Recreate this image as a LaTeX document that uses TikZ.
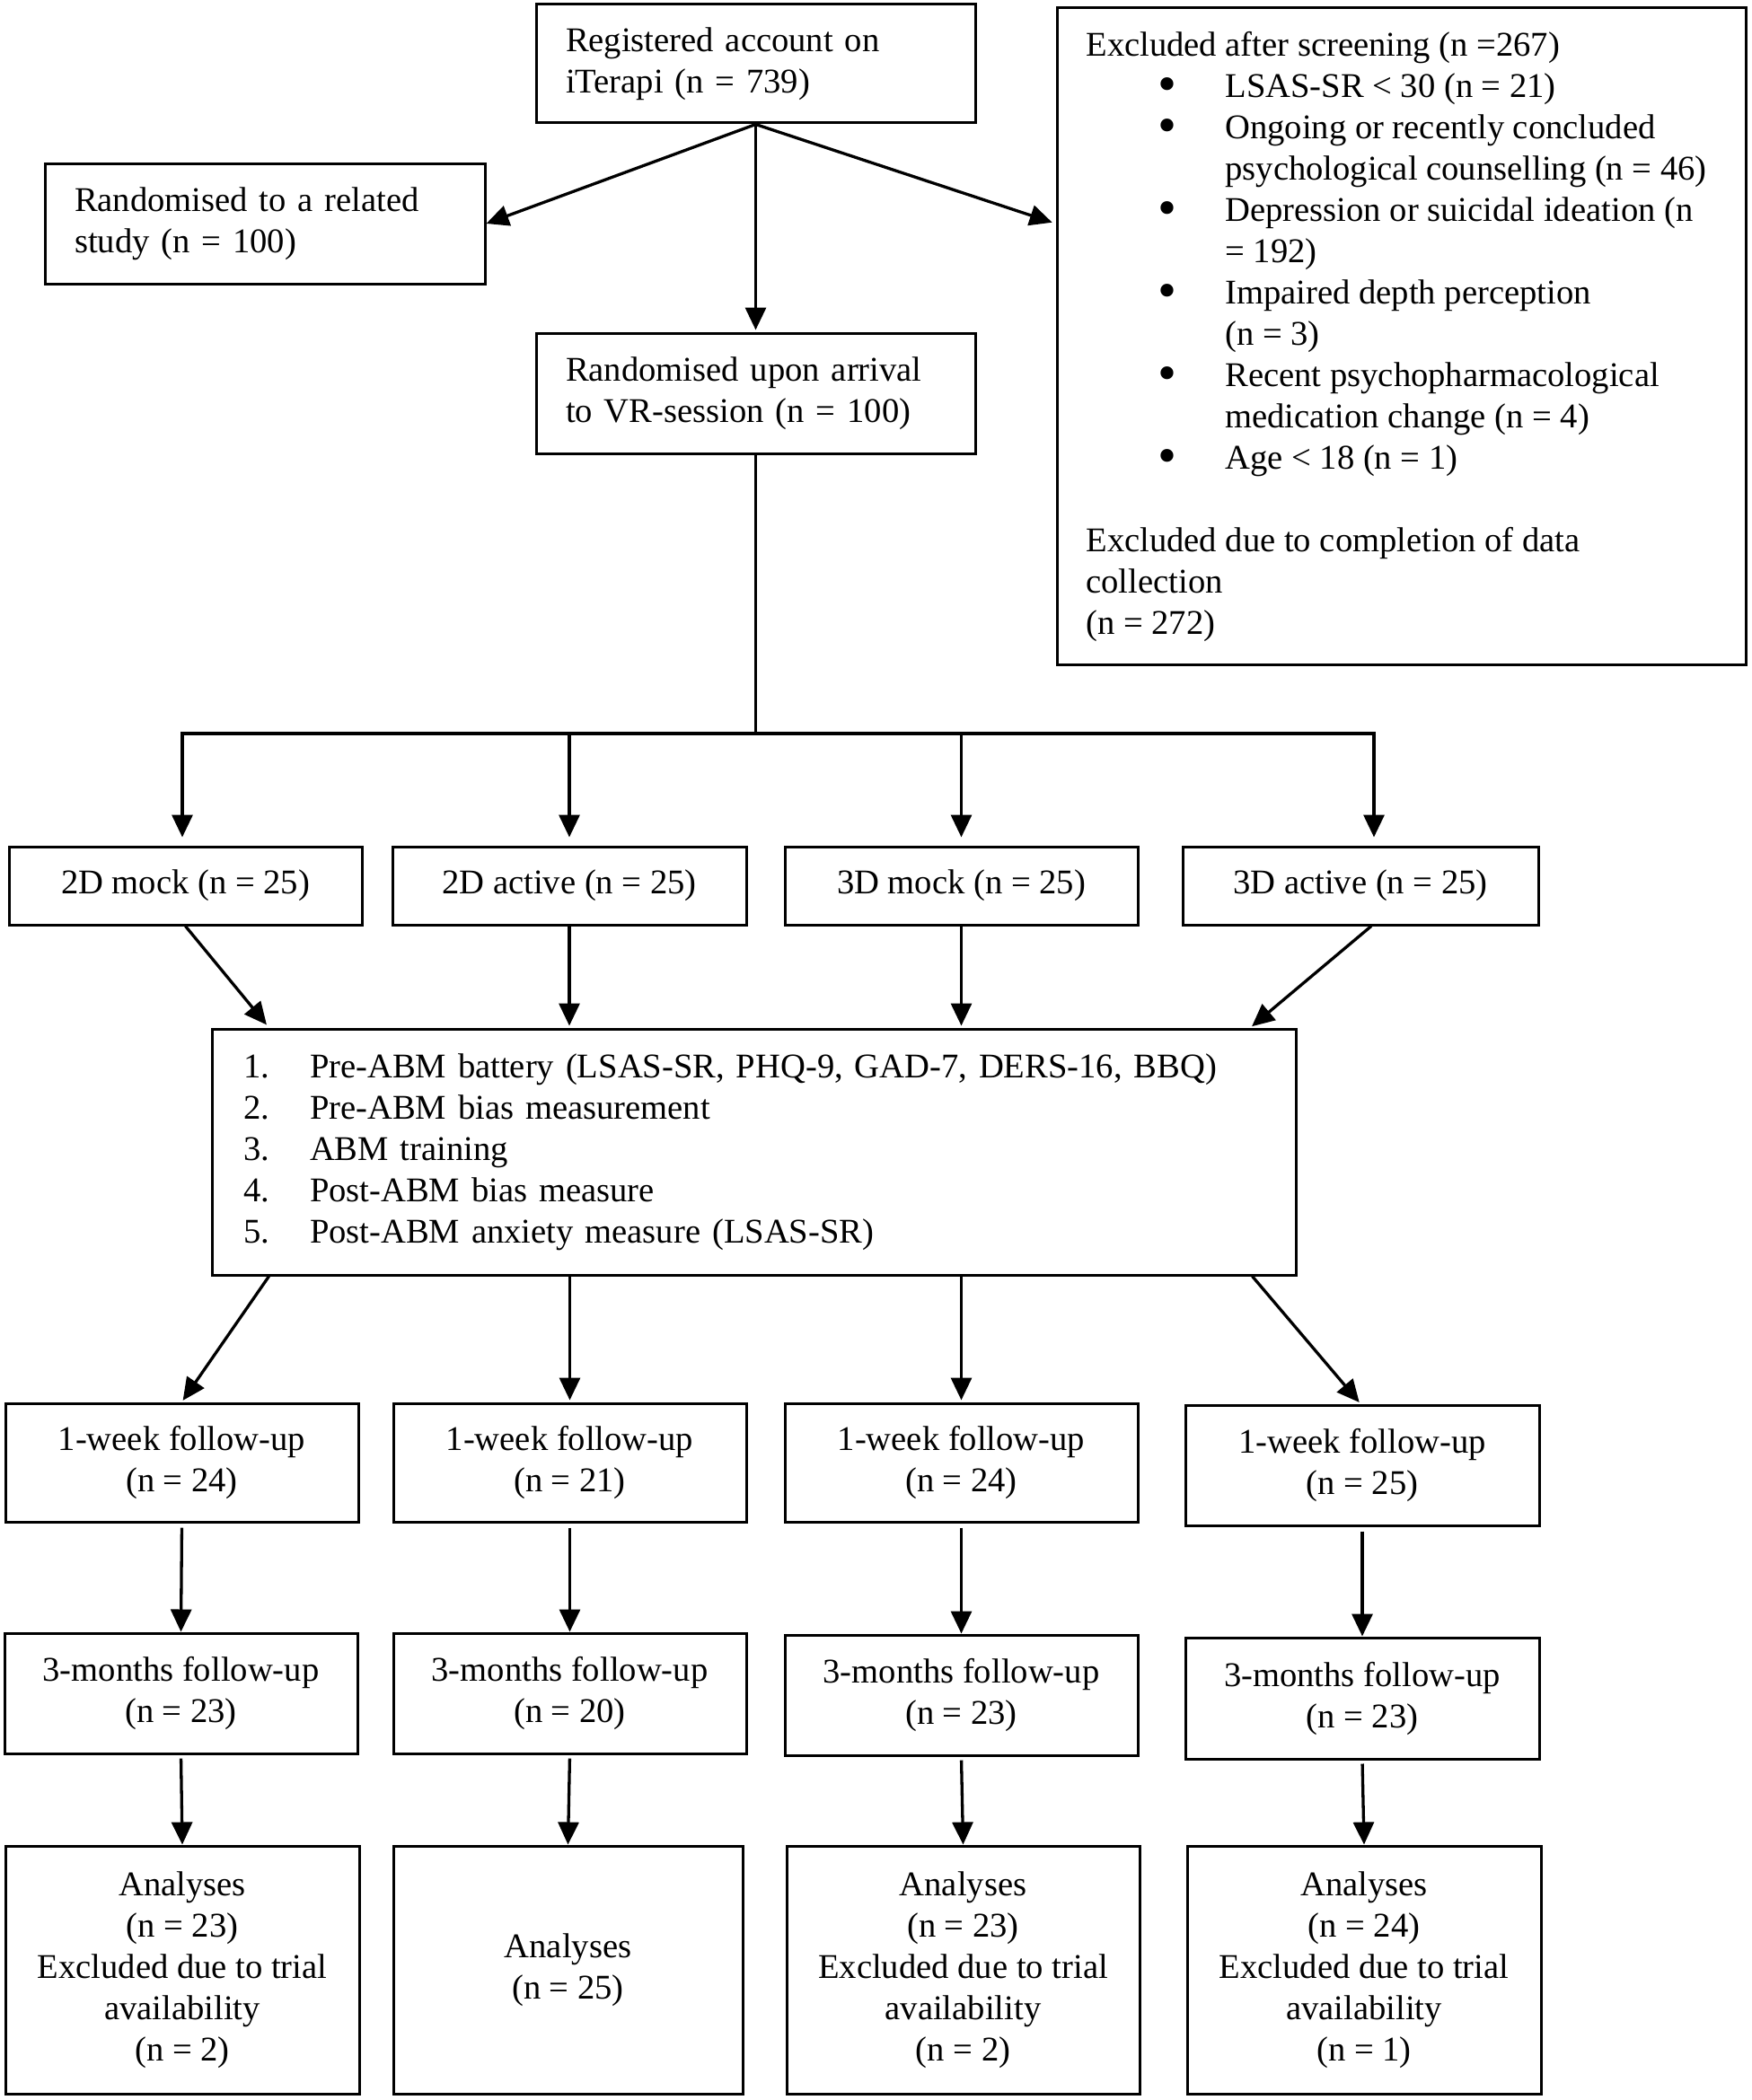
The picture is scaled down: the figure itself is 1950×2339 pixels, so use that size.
\documentclass[tikz,border=0pt]{standalone}
\usepackage{fontspec}
\usepackage{graphicx}
\setmainfont{Liberation Serif}
\usetikzlibrary{arrows.meta,calc}
\newcommand{\bigbul}{\raisebox{-0.13em}{\scalebox{1.55}{\textbullet}}}
\newcommand{\bitem}[1]{\hspace*{40pt}\makebox[37.5pt][l]{\bigbul}#1}
\newcommand{\bcont}[1]{\hspace*{77.5pt}#1}
\newcommand{\nitem}[2]{\makebox[37pt][l]{#1}#2}
\begin{document}
\begin{tikzpicture}[x=0.5pt,y=-0.5pt,
  txt/.style={font=\fontsize{19.3}{23}\selectfont},
  box/.style={draw, line width=1.5pt, inner sep=0pt, txt},
  cbox/.style={box, align=center},
  lbox/.style={box, align=left},
  conn/.style={line width=1.65pt, -{Triangle[length=12.5pt,width=11.5pt]}},
  plain/.style={line width=1.65pt}]
\useasboundingbox (0,0) rectangle (1950,2339);

% top row
\node[lbox, minimum height=66pt, text width=211.5pt, inner xsep=16.5pt] (reg) at (841.5,71) {Registered account on\\iTerapi (n = 739)};
\node[lbox, minimum height=67pt, text width=212pt, inner xsep=16.5pt] (rel) at (295,249) {Randomised to a related\\study (n = 100)};
\node[lbox, minimum height=67pt, text width=211.5pt, inner xsep=16.5pt] (arr) at (841.5,438) {Randomised upon arrival\\to VR-session (n = 100)};
\node[box, minimum width=383.5pt, minimum height=365.5pt] (excl) at (1560.5,374.5) {};
\node[txt, anchor=north west, inner sep=0pt, align=left] (excltxt) at (1209,35) {Excluded after screening (n =267)\\
\bitem{LSAS-SR < 30 (n = 21)}\\
\bitem{Ongoing or recently concluded}\\
\bcont{psychological counselling (n = 46)}\\
\bitem{Depression or suicidal ideation (n}\\
\bcont{= 192)}\\
\bitem{Impaired depth perception}\\
\bcont{(n = 3)}\\
\bitem{Recent psychopharmacological}\\
\bcont{medication change (n = 4)}\\
\bitem{Age < 18 (n = 1)}\\
\mbox{}\\
Excluded due to completion of data\\
collection\\
(n = 272)};

% groups
\node[cbox, minimum width=196.5pt, minimum height=43.5pt] (g1) at (206.5,986.5) {2D mock (n = 25)};
\node[cbox, minimum width=197pt, minimum height=43.5pt] (g2) at (634,986.5) {2D active (n = 25)};
\node[cbox, minimum width=196.5pt, minimum height=43.5pt] (g3) at (1070.5,986.5) {3D mock (n = 25)};
\node[cbox, minimum width=198pt, minimum height=43.5pt] (g4) at (1515,986.5) {3D active (n = 25)};

% centre box
\node[lbox, minimum height=137pt, text width=568.5pt, inner xsep=17.5pt] (cb) at (839.5,1283) {\nitem{1.}{Pre-ABM battery (LSAS-SR, PHQ-9, GAD-7, DERS-16, BBQ)}\\
\nitem{2.}{Pre-ABM bias measurement}\\
\nitem{3.}{ABM training}\\
\nitem{4.}{Post-ABM bias measure}\\
\nitem{5.}{Post-ABM anxiety measure (LSAS-SR)}};

% 1-week
\node[cbox, minimum width=196.5pt, minimum height=66pt] (w1) at (202.5,1629) {1-week follow-up\\(n = 24)};
\node[cbox, minimum width=196.5pt, minimum height=66pt] (w2) at (634.5,1629) {1-week follow-up\\(n = 21)};
\node[cbox, minimum width=196.5pt, minimum height=66pt] (w3) at (1070.5,1629) {1-week follow-up\\(n = 24)};
\node[cbox, minimum width=197pt, minimum height=67pt] (w4) at (1517,1632) {1-week follow-up\\(n = 25)};

% 3-months
\node[cbox, minimum width=196.5pt, minimum height=67pt] (m1) at (201.5,1886) {3-months follow-up\\(n = 23)};
\node[cbox, minimum width=196.5pt, minimum height=67pt] (m2) at (634.5,1886) {3-months follow-up\\(n = 20)};
\node[cbox, minimum width=196.5pt, minimum height=67pt] (m3) at (1070.5,1888) {3-months follow-up\\(n = 23)};
\node[cbox, minimum width=197pt, minimum height=67.5pt] (m4) at (1517,1891.5) {3-months follow-up\\(n = 23)};

% analyses
\node[cbox, minimum width=197pt, minimum height=138pt] (a1) at (203,2194) {Analyses\\(n = 23)\\Excluded due to trial\\availability\\(n = 2)};
\node[cbox, minimum width=194.5pt, minimum height=138pt] (a2) at (632.5,2194) {Analyses\\(n = 25)};
\node[cbox, minimum width=196.5pt, minimum height=138pt] (a3) at (1072.5,2194) {Analyses\\(n = 23)\\Excluded due to trial\\availability\\(n = 2)};
\node[cbox, minimum width=197pt, minimum height=138pt] (a4) at (1519,2194) {Analyses\\(n = 24)\\Excluded due to trial\\availability\\(n = 1)};

% connectors top
\draw[conn] (reg.south) -- (rel.east);
\draw[conn, shorten >=2pt] (reg.south) -- (excl.west |- rel.east);
\draw[conn, shorten >=1pt] (reg.south) -- (arr.north);

\coordinate (split) at (841.5,817);
\draw[plain] (arr.south) -- (split);
\draw[conn, shorten >=4.5pt] (split) -| ([xshift=-1.75pt]g1.north);
\draw[conn, shorten >=4.5pt] (split) -| (g2.north);
\draw[conn, shorten >=4.5pt] (split) -| (g3.north);
\draw[conn, shorten >=4.5pt] (split) -| ([xshift=7.5pt]g4.north);

% groups to centre
\draw[conn, shorten >=2pt] (g1.south) -- ($(cb.north west)+(65,0)$);
\draw[conn, shorten >=1pt] (g2.south) -- (g2.south |- cb.north);
\draw[conn, shorten >=1pt] (g3.south) -- (g3.south |- cb.north);
\draw[conn, shorten >=1pt] ([xshift=6pt]g4.south) -- ($(cb.north east)+(-52,0)$);

% centre to 1-week
\draw[conn, shorten >=1pt] ($(cb.south west)+(65,0)$) -- (w1.north);
\draw[conn, shorten >=1pt] (w2.north |- cb.south) -- (w2.north);
\draw[conn, shorten >=1pt] (w3.north |- cb.south) -- (w3.north);
\draw[conn, shorten >=1pt] ($(cb.south east)+(-50,0)$) -- ([xshift=-1pt]w4.north);

% columns
\foreach \i in {1,2,3,4}{
  \draw[conn, shorten <=2.5pt] (w\i.south) -- (m\i.north);
  \draw[conn, shorten <=2pt] (m\i.south) -- (a\i.north);
}
\end{tikzpicture}
\end{document}
